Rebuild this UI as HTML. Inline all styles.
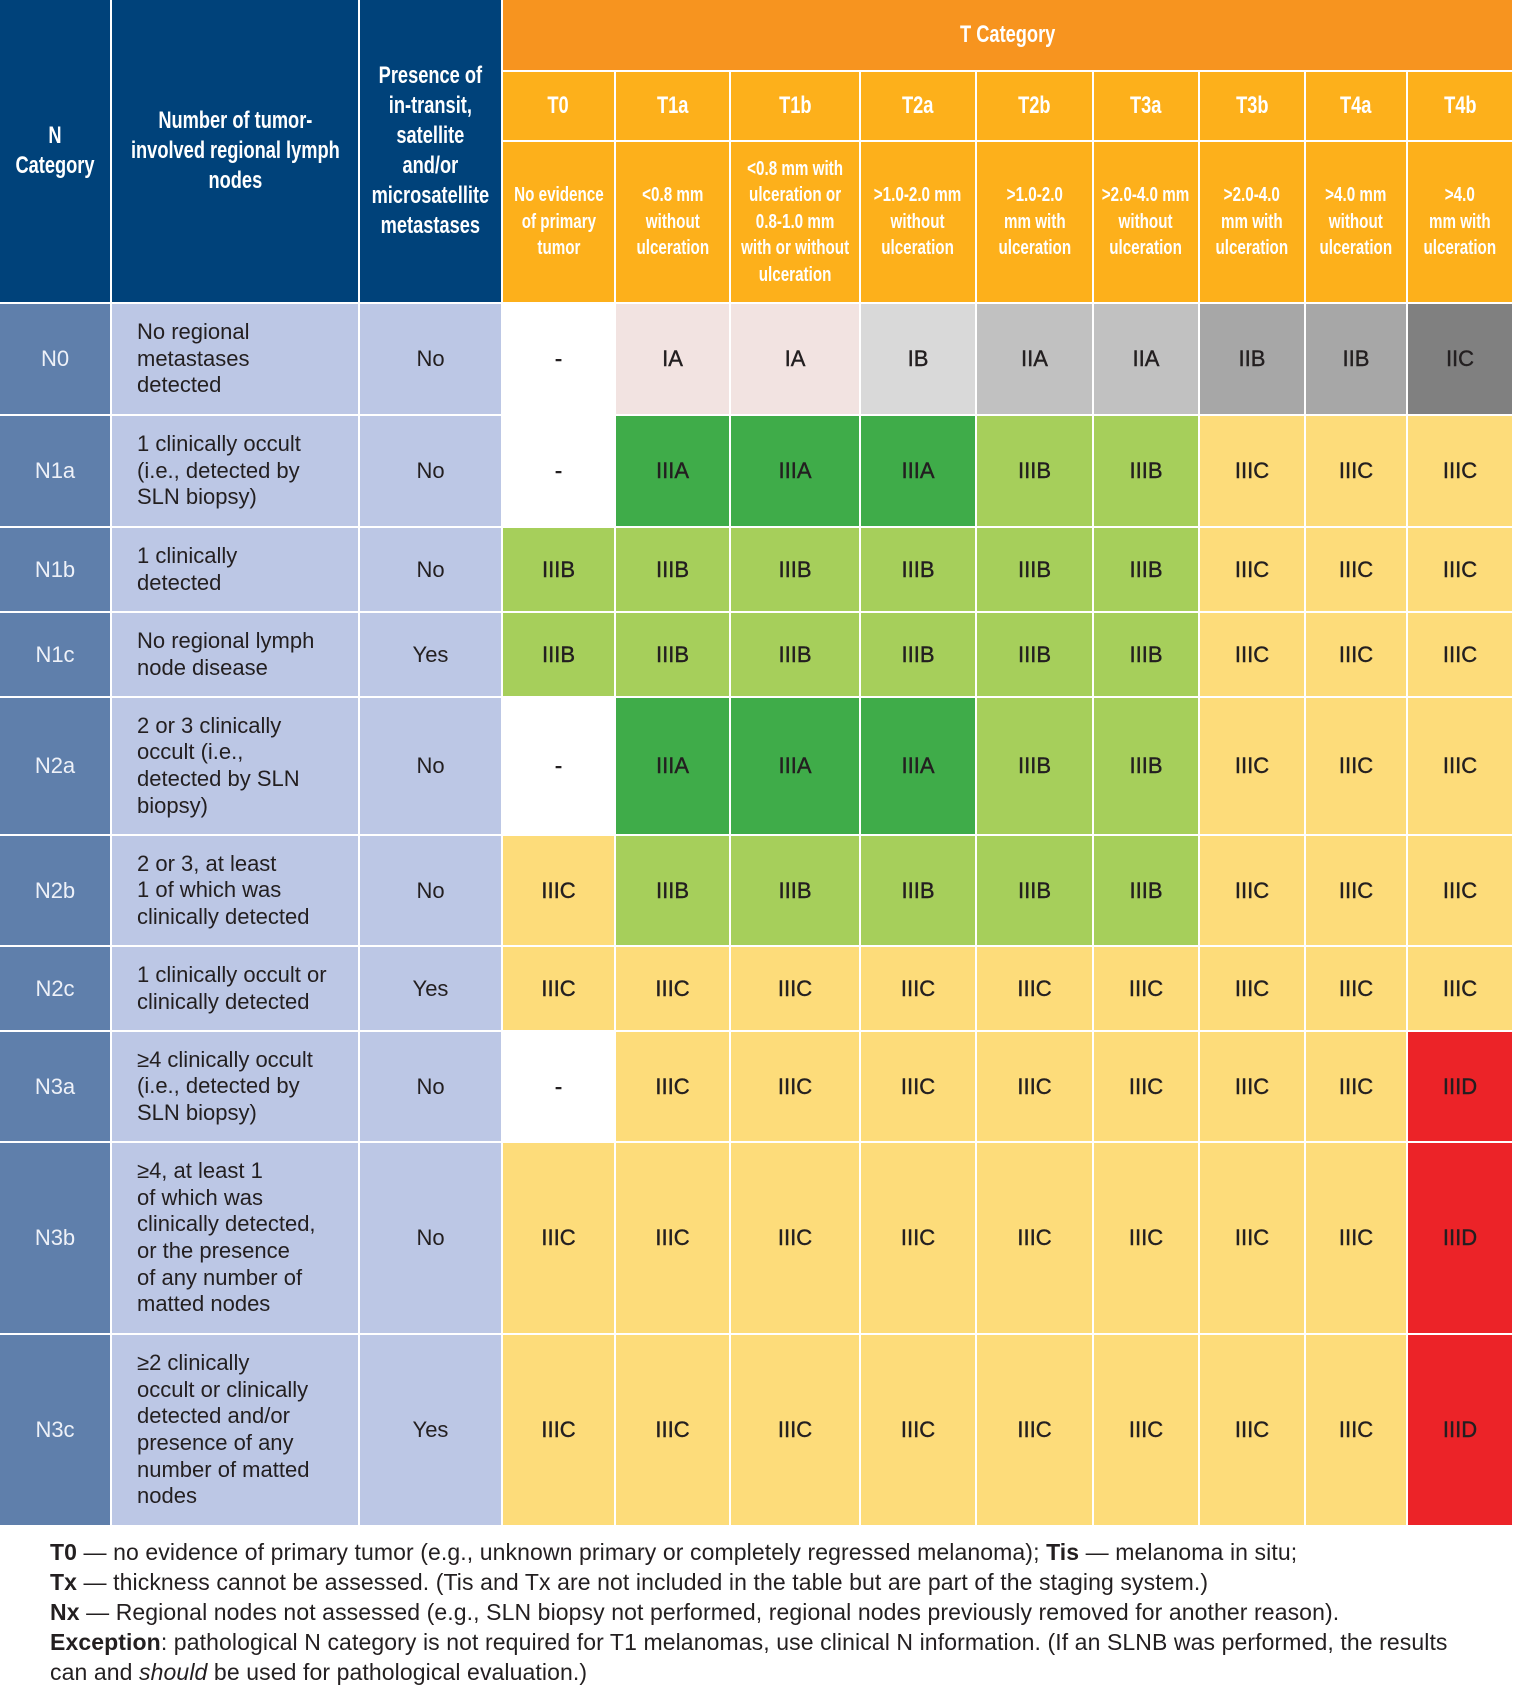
<!DOCTYPE html>
<html><head><meta charset="utf-8">
<style>
body{margin:0;width:1514px;height:1686px;background:#fff;position:relative;overflow:hidden;font-family:"Liberation Sans",sans-serif}
.c{position:absolute;box-sizing:border-box;border-right:2px solid #fff;border-bottom:2px solid #fff;display:flex;align-items:center;justify-content:center;text-align:center}
.h{color:#fff;font-weight:bold}
.h span{display:inline-block;white-space:nowrap;transform:scaleX(0.76);transform-origin:center}
.foot{position:absolute;left:50px;font-size:23px;letter-spacing:0.1px;color:#231f20;line-height:30px;top:1537px;width:1440px}
</style></head><body>
<div id="tbl"></div>
<div class="foot">
<div><b>T0</b> — no evidence of primary tumor (e.g., unknown primary or completely regressed melanoma); <b>Tis</b> — melanoma in situ;</div>
<div><b>Tx</b> — thickness cannot be assessed. (Tis and Tx are not included in the table but are part of the staging system.)</div>
<div><b>Nx</b> — Regional nodes not assessed (e.g., SLN biopsy not performed, regional nodes previously removed for another reason).</div>
<div><b>Exception</b>: pathological N category is not required for T1 melanomas, use clinical N information. (If an SLNB was performed, the results can and <i>should</i> be used for pathological evaluation.)</div>
</div>
<script>
const colX=[0,112,360,503,616,731,861,977,1094,1200,1306,1408,1514];
const rowY=[304,416,528,613,698,836,947,1032,1143,1335,1527];
const tCats=["T0","T1a","T1b","T2a","T2b","T3a","T3b","T4a","T4b"];
const tDesc=["No evidence<br>of primary<br>tumor","&lt;0.8 mm<br>without<br>ulceration","&lt;0.8 mm with<br>ulceration or<br>0.8-1.0 mm<br>with or without<br>ulceration",">1.0-2.0 mm<br>without<br>ulceration",">1.0-2.0<br>mm with<br>ulceration",">2.0-4.0 mm<br>without<br>ulceration",">2.0-4.0<br>mm with<br>ulceration",">4.0 mm<br>without<br>ulceration",">4.0<br>mm with<br>ulceration"];
const nCats=["N0","N1a","N1b","N1c","N2a","N2b","N2c","N3a","N3b","N3c"];
const nDesc=["No regional<br>metastases<br>detected","1 clinically occult<br>(i.e., detected by<br>SLN biopsy)","1 clinically<br>detected","No regional lymph<br>node disease","2 or 3 clinically<br>occult (i.e.,<br>detected by SLN<br>biopsy)","2 or 3, at least<br>1 of which was<br>clinically detected","1 clinically occult or<br>clinically detected","≥4 clinically occult<br>(i.e., detected by<br>SLN biopsy)","≥4, at least 1<br>of which was<br>clinically detected,<br>or the presence<br>of any number of<br>matted nodes","≥2 clinically<br>occult or clinically<br>detected and/or<br>presence of any<br>number of matted<br>nodes"];
const transit=["No","No","No","Yes","No","No","Yes","No","No","Yes"];
const stages=[
["-","IA","IA","IB","IIA","IIA","IIB","IIB","IIC"],
["-","IIIA","IIIA","IIIA","IIIB","IIIB","IIIC","IIIC","IIIC"],
["IIIB","IIIB","IIIB","IIIB","IIIB","IIIB","IIIC","IIIC","IIIC"],
["IIIB","IIIB","IIIB","IIIB","IIIB","IIIB","IIIC","IIIC","IIIC"],
["-","IIIA","IIIA","IIIA","IIIB","IIIB","IIIC","IIIC","IIIC"],
["IIIC","IIIB","IIIB","IIIB","IIIB","IIIB","IIIC","IIIC","IIIC"],
["IIIC","IIIC","IIIC","IIIC","IIIC","IIIC","IIIC","IIIC","IIIC"],
["-","IIIC","IIIC","IIIC","IIIC","IIIC","IIIC","IIIC","IIID"],
["IIIC","IIIC","IIIC","IIIC","IIIC","IIIC","IIIC","IIIC","IIID"],
["IIIC","IIIC","IIIC","IIIC","IIIC","IIIC","IIIC","IIIC","IIID"]];
const colors={"-":"#ffffff","IA":"#f2e3e1","IB":"#d9d9d9","IIA":"#c1c1c1","IIB":"#a7a7a7","IIC":"#808080","IIIA":"#3fac49","IIIB":"#a6cf5b","IIIC":"#fddc7a","IIID":"#ec2328"};
const tbl=document.getElementById('tbl');
function cell(x1,x2,y1,y2,bg,html,cls,extra){
 const d=document.createElement('div');
 d.className='c '+(cls||'');
 d.style.cssText=`left:${x1}px;top:${y1}px;width:${x2-x1}px;height:${y2-y1}px;background:${bg};`+(extra||'');
 d.innerHTML=html;tbl.appendChild(d);return d;}
let d;
d=cell(0,112,0,304,'#00427a','<span>N<br>Category</span>','h','font-size:24px;line-height:30px;');

d=cell(112,360,0,304,'#00427a','<span>Number of tumor-<br>involved regional lymph<br>nodes</span>','h','font-size:24px;line-height:30px;');

d=cell(360,503,0,304,'#00427a','<span>Presence of<br>in-transit,<br>satellite<br>and/or<br>microsatellite<br>metastases</span>','h','font-size:24px;line-height:30px;');

d=cell(503,1514,0,72,'#f7941f','<span>T Category</span>','h','font-size:24px;');

tCats.forEach((t,i)=>{
 let e=cell(colX[i+3],colX[i+4],72,142,'#fdb01b','<span>'+t+'</span>','h','font-size:24px;');
 
 
 e=cell(colX[i+3],colX[i+4],142,304,'#fdb01b','<span>'+tDesc[i]+'</span>','h','font-size:20px;line-height:26.5px;');
 
 
});
nCats.forEach((n,r)=>{
 const y1=rowY[r],y2=rowY[r+1];
 let e=cell(0,112,y1,y2,'#5f7fab',n,'','color:#eef1f8;font-size:22px;');
 
 
 e=cell(112,360,y1,y2,'#bcc7e5',nDesc[r],'','justify-content:flex-start;text-align:left;padding-left:25px;font-size:22px;line-height:26.6px;color:#231f20;');
 
 
 e=cell(360,503,y1,y2,'#bcc7e5',transit[r],'','font-size:22px;color:#231f20;');
 
 
 stages[r].forEach((s,i)=>{
  const c=cell(colX[i+3],colX[i+4],y1,y2,colors[s],s,'','font-size:22px;color:#231f20;-webkit-text-stroke:0.4px #231f20;');
  
  
 });
});
</script>
</body></html>
